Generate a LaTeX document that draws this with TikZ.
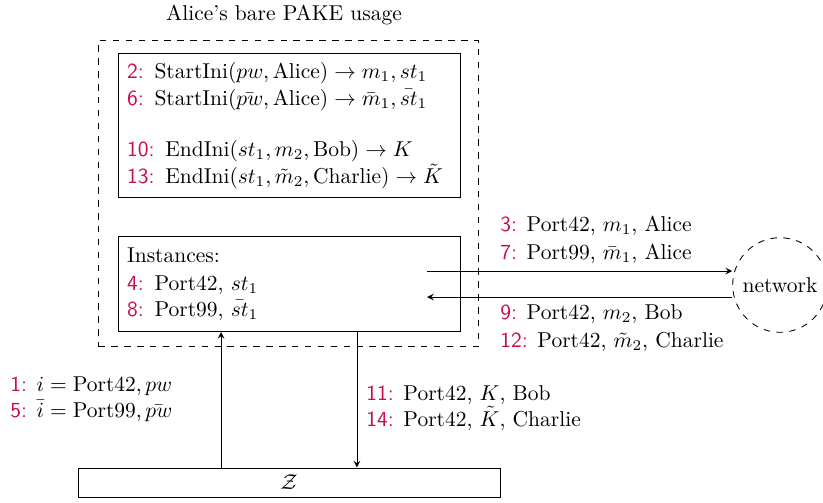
\documentclass[tikz,border=0pt]{standalone}
\usepackage{amsmath}
\usetikzlibrary{positioning}
\definecolor{stepred}{RGB}{200,10,80}
\newcommand{\stepno}[1]{{\color{stepred}\textsf{#1:}}}

\begin{document}
\begin{tikzpicture}[x=0.465pt, y=-0.465pt, box/.style={draw, rectangle, align=left, inner sep=4pt, text width=151pt}, lbl/.style={align=left, inner sep=0pt}, n/.style={-stealth, line width=0.4pt}]
            \useasboundingbox (0,0) rectangle (823,502);
            % nodes
            \node (title) at (284,15) {Alice's bare PAKE usage};
            \node[draw, dashed, minimum width=176.7pt, minimum height=142.3pt, anchor=north west] (usage) at (98,40) {};
            \node[box, anchor=north west, minimum height=65.6pt] (calls) at (118,53) {%
                \stepno{2} StartIni$(pw, \text{Alice}) \to m_1, st_1$\\[0.5pt]
                \stepno{6} StartIni$(\bar{pw}, \text{Alice}) \to \bar{m}_1, \bar{st}_1$\\[12pt]
                \stepno{10} EndIni$(st_1, m_2, \text{Bob}) \to K$\\[0.5pt]
                \stepno{13} EndIni$(st_1, \tilde{m}_2, \text{Charlie}) \to \tilde{K}$};
            \node[box, anchor=north west, minimum height=44.2pt] (inst) at (118,236) {%
                Instances:\\[1pt]
                \stepno{4} Port42, $st_1$\\
                \stepno{8} Port99, $\bar{st}_1$};
            \node[draw, dashed, circle, minimum size=44pt, inner sep=0pt] (net) at (780,285) {network};
            \node[draw, rectangle, minimum width=196.2pt, minimum height=13.5pt] (zed) at (289,482.5) {$\mathcal{Z}$};
            \coordinate (out) at (427,271);
            \coordinate (in) at (427,297);
            % labels
            \node[lbl, anchor=south west] (sent) at (500,264) {%
                \stepno{3} Port42, $m_1$, Alice\\[1pt]
                \stepno{7} Port99, $\bar{m}_1$, Alice};
            \node[lbl, anchor=north west] (recv) at (500,304) {%
                \stepno{9} Port42, $m_2$, Bob\\[1pt]
                \stepno{12} Port42, $\tilde{m}_2$, Charlie};
            \node[lbl, anchor=west] (input) at (10,399) {%
                \stepno{1} $i = \text{Port42}, pw$\\
                \stepno{5} $\bar{i} = \text{Port99}, \bar{pw}$};
            \node[lbl, anchor=west] (output) at (366,408) {%
                \stepno{11} Port42, $K$, Bob\\
                \stepno{14} Port42, $\tilde{K}$, Charlie};
            % edges
            \draw [n] (out) -- (out -| net.west);
            \draw [n] (in -| net.west) -- (in);
            \draw [n] ([xshift=-31.6pt]zed.north) -- ([xshift=-31.6pt]zed.north |- inst.south);
            \draw [n] ([xshift=31.6pt]zed.north |- inst.south) -- ([xshift=31.6pt]zed.north);
        \end{tikzpicture}
\end{document}
